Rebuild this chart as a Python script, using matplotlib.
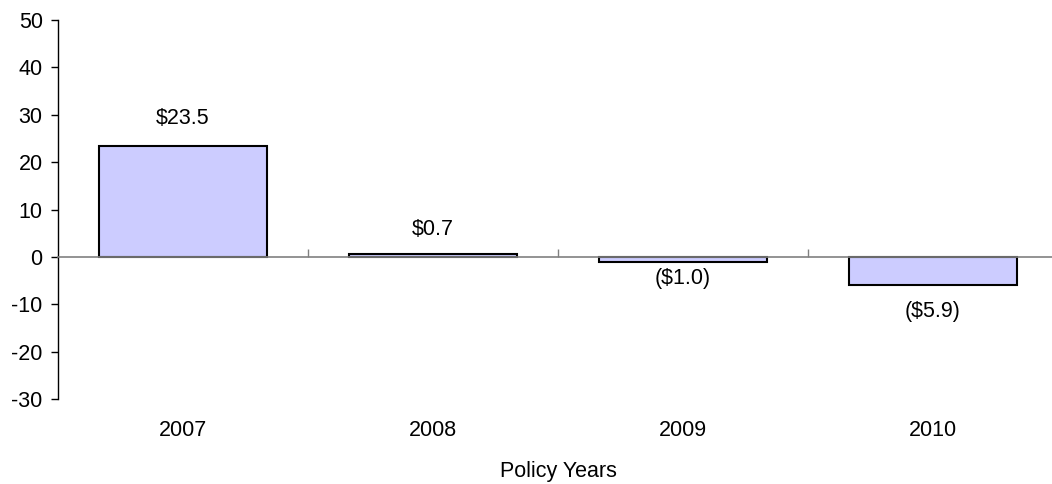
import matplotlib
matplotlib.use("Agg")
import matplotlib.pyplot as plt
from matplotlib.transforms import blended_transform_factory, offset_copy

plt.rcParams['font.family'] = ['Liberation Sans', 'DejaVu Sans']

categories = ['2007', '2008', '2009', '2010']
values = [23.5, 0.7, -1.0, -5.9]
value_labels = ['$23.5', '$0.7', '($1.0)', '($5.9)']
y_ticks = [-30, -20, -10, 0, 10, 20, 30, 40, 50]
x_title = 'Policy Years'

FS = 15.5
W, H = 1052, 484
fig = plt.figure(figsize=(W / 100, H / 100), dpi=100)
ax = fig.add_axes([58 / W, 85 / H, 1000 / W, 379 / H])

x = list(range(len(categories)))
ax.bar(x, values, width=0.67, color='#CCCCFF', edgecolor='black', linewidth=1.5, zorder=3)

ax.set_xlim(-0.5, len(categories) - 0.5)
ax.set_ylim(-30, 50)
ax.set_yticks(y_ticks)
ax.set_yticklabels([str(t) for t in y_ticks], fontsize=FS)
ax.tick_params(axis='y', direction='out', length=5, width=1, pad=6, colors='black')

for s in ['top', 'right']:
    ax.spines[s].set_visible(False)
ax.spines['left'].set_linewidth(1)
ax.spines['bottom'].set_position(('data', 0))
ax.spines['bottom'].set_color('#808080')
ax.spines['bottom'].set_linewidth(1.2)
ax.spines['bottom'].set_zorder(4)
ax.set_xticks([i + 0.5 for i in x[:-1]])
ax.set_xticklabels([])
ax.tick_params(axis='x', direction='in', length=6, width=1, colors='#808080')

tr = blended_transform_factory(ax.transData, ax.transAxes)
for i, c in zip(x, categories):
    ax.text(i, 0, c, transform=offset_copy(tr, fig=fig, x=0, y=-31, units='dots'),
            ha='center', va='center', fontsize=FS)
ax.text(0.5 * (len(categories) - 1), 0, x_title,
        transform=offset_copy(tr, fig=fig, x=0, y=-72, units='dots'),
        ha='center', va='center', fontsize=FS)

offsets = [27, 24, -17, -27]
for i, v, lab, off in zip(x, values, value_labels, offsets):
    ax.text(i, v, lab, transform=offset_copy(ax.transData, fig=fig, x=0, y=off, units='dots'),
            ha='center', va='center', fontsize=FS)

fig.savefig('out.png', dpi=100)
